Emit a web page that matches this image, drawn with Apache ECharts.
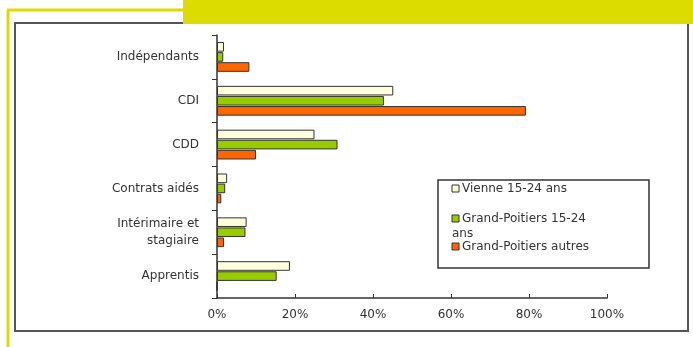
<!DOCTYPE html>
<html><head><meta charset="utf-8">
<script src="https://cdn.jsdelivr.net/npm/echarts@6/dist/echarts.min.js"></script>
<style>html,body{margin:0;padding:0;background:#fff}#c{width:693px;height:347px}</style>
</head><body><div id="c"></div>
<script>
var categories = ['Indépendants', 'CDI', 'CDD', 'Contrats aidés', 'Intérimaire et\nstagiaire', 'Apprentis'];
var seriesNames = ['Vienne 15-24 ans', 'Grand-Poitiers 15-24 ans', 'Grand-Poitiers autres'];
var legendLines = [['Vienne 15-24 ans'], ['Grand-Poitiers 15-24', 'ans'], ['Grand-Poitiers autres']];
var vienne = [1.8, 45.2, 25.0, 2.6, 7.6, 18.7];
var gpJeunes = [1.6, 42.8, 30.9, 2.1, 7.3, 15.3];
var gpAutres = [8.3, 79.2, 10.0, 1.1, 1.8, 0];
var xTicks = [0, 20, 40, 60, 80, 100];
var colors = ['#FFFFDD', '#99CC00', '#FF6600'];

var chart = echarts.init(document.getElementById('c'), null, {renderer: 'canvas'});
var font = 'DejaVu Sans';
var txtColor = '#333';
function mk(name, data, color) {
  return {name: name, type: 'bar', data: data, barGap: '5%', barCategoryGap: '32%',
    itemStyle: {color: color, borderColor: '#333', borderWidth: 1}};
}
// legend drawn as a framed box (Excel-like wrap of the second entry)
var legendX = 438, legendY = 180, rowY = [189, 219, 247];
var legendEls = [
  {type: 'rect', shape: {x: legendX, y: legendY, width: 211, height: 88},
   style: {fill: '#fff', stroke: '#333', lineWidth: 1.5}}
];
seriesNames.forEach(function (n, i) {
  legendEls.push({type: 'rect', shape: {x: 452, y: rowY[i] - 4, width: 7, height: 7},
    style: {fill: colors[i], stroke: '#333', lineWidth: 1}});
  legendEls.push({type: 'text', x: 462, y: rowY[i],
    style: {text: legendLines[i][0], font: '12px ' + font, fill: txtColor, verticalAlign: 'middle'}});
  if (legendLines[i][1]) {
    legendEls.push({type: 'text', x: 452, y: rowY[i] + 15,
      style: {text: legendLines[i][1], font: '12px ' + font, fill: txtColor, verticalAlign: 'middle'}});
  }
});

chart.setOption({
  animation: false,
  graphic: [
    {type: 'line', shape: {x1: 8, y1: 10, x2: 8, y2: 347}, style: {stroke: '#DCDC00', lineWidth: 3}, silent: true},
    {type: 'line', shape: {x1: 7, y1: 10, x2: 693, y2: 10}, style: {stroke: '#DCDC00', lineWidth: 3}, silent: true},
    {type: 'rect', shape: {x: 183, y: 0, width: 510, height: 24}, style: {fill: '#DCDC00'}, silent: true},
    {type: 'rect', shape: {x: 15, y: 23, width: 673, height: 308}, style: {fill: null, stroke: '#555', lineWidth: 2}, silent: true, z: -1},
    {type: 'group', silent: true, z: 100, children: legendEls}
  ],
  grid: {left: 217, right: 86, top: 35, bottom: 49, containLabel: false},
  legend: {show: false, data: seriesNames},
  xAxis: {
    type: 'value', min: 0, max: 100, interval: 20,
    axisLine: {show: true, lineStyle: {color: '#333', width: 1.5}},
    axisTick: {show: true, inside: true, length: 4, lineStyle: {color: '#333'}},
    splitLine: {show: false},
    axisLabel: {fontFamily: font, fontSize: 12, color: txtColor, margin: 11, formatter: '{value}%'}
  },
  yAxis: {
    type: 'category', data: categories, inverse: true,
    axisLine: {show: true, lineStyle: {color: '#333', width: 1.5}},
    axisTick: {show: true, length: 5, lineStyle: {color: '#333'}},
    axisLabel: {fontFamily: font, fontSize: 12, color: txtColor, margin: 18, lineHeight: 17, align: 'right'}
  },
  series: [mk(seriesNames[0], vienne, colors[0]), mk(seriesNames[1], gpJeunes, colors[1]), mk(seriesNames[2], gpAutres, colors[2])]
});
</script></body></html>
